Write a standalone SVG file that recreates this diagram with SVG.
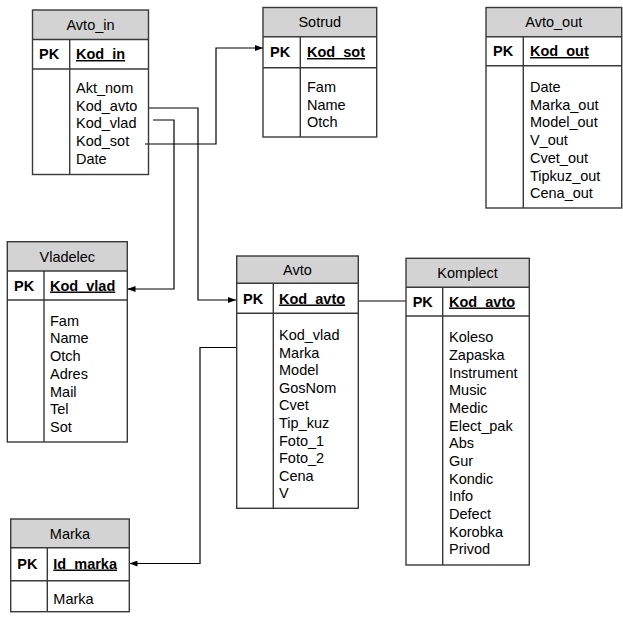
<svg xmlns="http://www.w3.org/2000/svg" width="623" height="621" viewBox="0 0 623 621">
<defs>
<marker id="arr" markerWidth="8" markerHeight="6" refX="8" refY="3" orient="auto" markerUnits="userSpaceOnUse">
<path d="M0,0 L8,3 L0,6 z" fill="#000"/>
</marker>
</defs>
<style>
.hd{fill:#d3d3d3;stroke:none}
.bx{fill:none;stroke:#3a3a3a;stroke-width:1.4}
.ln{stroke:#3a3a3a;stroke-width:1.4}
text{font-family:"Liberation Sans",Arial,sans-serif;font-size:14.5px;fill:#000}
.t{text-anchor:middle}
.pk{font-weight:bold}
.key{font-weight:bold;text-decoration:underline}
.cn{fill:none;stroke:#000;stroke-width:1.2}
</style>
<rect width="623" height="621" fill="#fff"/>

<g id="connectors">
<path class="cn" d="M149,108 H198 V300 H236" marker-end="url(#arr)"/>
<path class="cn" d="M153,120 H174 V289 H127.5" marker-end="url(#arr)"/>
<path class="cn" d="M145,144 H216 V48 H263" marker-end="url(#arr)"/>
<path class="cn" d="M358,301 H406"/>
<path class="cn" d="M237,347.5 H200 V563.5 H129.5" marker-end="url(#arr)"/>
</g>

<g id="Avto_in">
<rect class="hd" x="32.5" y="10" width="116" height="29.5"/>
<rect class="bx" x="32.5" y="10" width="116" height="164.5"/>
<line class="ln" x1="32.5" y1="39.5" x2="148.5" y2="39.5"/>
<line class="ln" x1="32.5" y1="69" x2="148.5" y2="69"/>
<line class="ln" x1="69.7" y1="39.5" x2="69.7" y2="174.5"/>
<text class="t" x="90.5" y="30">Avto_in</text>
<text class="pk" x="39" y="59">PK</text>
<text class="key" x="76" y="59">Kod_in</text>
<text x="76" y="93">Akt_nom</text>
<text x="76" y="110.7">Kod_avto</text>
<text x="76" y="128.4">Kod_vlad</text>
<text x="76" y="146.1">Kod_sot</text>
<text x="76" y="163.8">Date</text>
</g>

<g id="Sotrud">
<rect class="hd" x="263" y="7.5" width="113.7" height="29.2"/>
<rect class="bx" x="263" y="7.5" width="113.7" height="129.5"/>
<line class="ln" x1="263" y1="36.7" x2="376.7" y2="36.7"/>
<line class="ln" x1="263" y1="67.7" x2="376.7" y2="67.7"/>
<line class="ln" x1="300.3" y1="36.7" x2="300.3" y2="137"/>
<text class="t" x="319.8" y="27">Sotrud</text>
<text class="pk" x="270" y="57">PK</text>
<text class="key" x="307" y="57">Kod_sot</text>
<text x="307" y="92">Fam</text>
<text x="307" y="109.7">Name</text>
<text x="307" y="127.4">Otch</text>
</g>

<g id="Avto_out">
<rect class="hd" x="486" y="7.5" width="135.7" height="29.2"/>
<rect class="bx" x="486" y="7.5" width="135.7" height="200.5"/>
<line class="ln" x1="486" y1="36.7" x2="621.7" y2="36.7"/>
<line class="ln" x1="486" y1="65.7" x2="621.7" y2="65.7"/>
<line class="ln" x1="523.3" y1="36.7" x2="523.3" y2="208"/>
<text class="t" x="553.8" y="27">Avto_out</text>
<text class="pk" x="493" y="56">PK</text>
<text class="key" x="530" y="56">Kod_out</text>
<text x="530" y="92">Date</text>
<text x="530" y="109.7">Marka_out</text>
<text x="530" y="127.4">Model_out</text>
<text x="530" y="145.1">V_out</text>
<text x="530" y="162.8">Cvet_out</text>
<text x="530" y="180.5">Tipkuz_out</text>
<text x="530" y="198.2">Cena_out</text>
</g>

<g id="Vladelec">
<rect class="hd" x="7.3" y="241.7" width="120" height="29.3"/>
<rect class="bx" x="7.3" y="241.7" width="120" height="200.3"/>
<line class="ln" x1="7.3" y1="271" x2="127.3" y2="271"/>
<line class="ln" x1="7.3" y1="300" x2="127.3" y2="300"/>
<line class="ln" x1="44" y1="271" x2="44" y2="442"/>
<text class="t" x="67.3" y="261.5">Vladelec</text>
<text class="pk" x="14" y="290.5">PK</text>
<text class="key" x="50" y="290.5">Kod_vlad</text>
<text x="50" y="325.7">Fam</text>
<text x="50" y="343.4">Name</text>
<text x="50" y="361.1">Otch</text>
<text x="50" y="378.8">Adres</text>
<text x="50" y="396.5">Mail</text>
<text x="50" y="414.2">Tel</text>
<text x="50" y="431.9">Sot</text>
</g>

<g id="Avto">
<rect class="hd" x="236.7" y="256" width="121.6" height="27.3"/>
<rect class="bx" x="236.7" y="256" width="121.6" height="252.3"/>
<line class="ln" x1="236.7" y1="283.3" x2="358.3" y2="283.3"/>
<line class="ln" x1="236.7" y1="313.3" x2="358.3" y2="313.3"/>
<line class="ln" x1="273.3" y1="283.3" x2="273.3" y2="508.3"/>
<text class="t" x="297.5" y="275">Avto</text>
<text class="pk" x="243" y="303.5">PK</text>
<text class="key" x="279" y="303.5">Kod_avto</text>
<text x="279" y="340">Kod_vlad</text>
<text x="279" y="357.6">Marka</text>
<text x="279" y="375.2">Model</text>
<text x="279" y="392.8">GosNom</text>
<text x="279" y="410.4">Cvet</text>
<text x="279" y="428">Tip_kuz</text>
<text x="279" y="445.6">Foto_1</text>
<text x="279" y="463.2">Foto_2</text>
<text x="279" y="480.8">Cena</text>
<text x="279" y="498.4">V</text>
</g>

<g id="Komplect">
<rect class="hd" x="406" y="258.3" width="123.3" height="29"/>
<rect class="bx" x="406" y="258.3" width="123.3" height="306.7"/>
<line class="ln" x1="406" y1="287.3" x2="529.3" y2="287.3"/>
<line class="ln" x1="406" y1="316" x2="529.3" y2="316"/>
<line class="ln" x1="442.7" y1="287.3" x2="442.7" y2="565"/>
<text class="t" x="467.6" y="278">Komplect</text>
<text class="pk" x="412.7" y="306.5">PK</text>
<text class="key" x="449" y="306.5">Kod_avto</text>
<text x="449" y="342.3">Koleso</text>
<text x="449" y="360">Zapaska</text>
<text x="449" y="377.6">Instrument</text>
<text x="449" y="395.3">Music</text>
<text x="449" y="413">Medic</text>
<text x="449" y="430.6">Elect_pak</text>
<text x="449" y="448.3">Abs</text>
<text x="449" y="466">Gur</text>
<text x="449" y="483.6">Kondic</text>
<text x="449" y="501.3">Info</text>
<text x="449" y="519">Defect</text>
<text x="449" y="536.6">Korobka</text>
<text x="449" y="554.3">Privod</text>
</g>

<g id="Marka">
<rect class="hd" x="10.7" y="519" width="118.6" height="28.7"/>
<rect class="bx" x="10.7" y="519" width="118.6" height="92.7"/>
<line class="ln" x1="10.7" y1="547.7" x2="129.3" y2="547.7"/>
<line class="ln" x1="10.7" y1="580.7" x2="129.3" y2="580.7"/>
<line class="ln" x1="47.3" y1="547.7" x2="47.3" y2="611.7"/>
<text class="t" x="70" y="538.5">Marka</text>
<text class="pk" x="17.3" y="568.5">PK</text>
<text class="key" x="53.3" y="568.5">Id_marka</text>
<text x="53.3" y="604.3">Marka</text>
</g>
</svg>
